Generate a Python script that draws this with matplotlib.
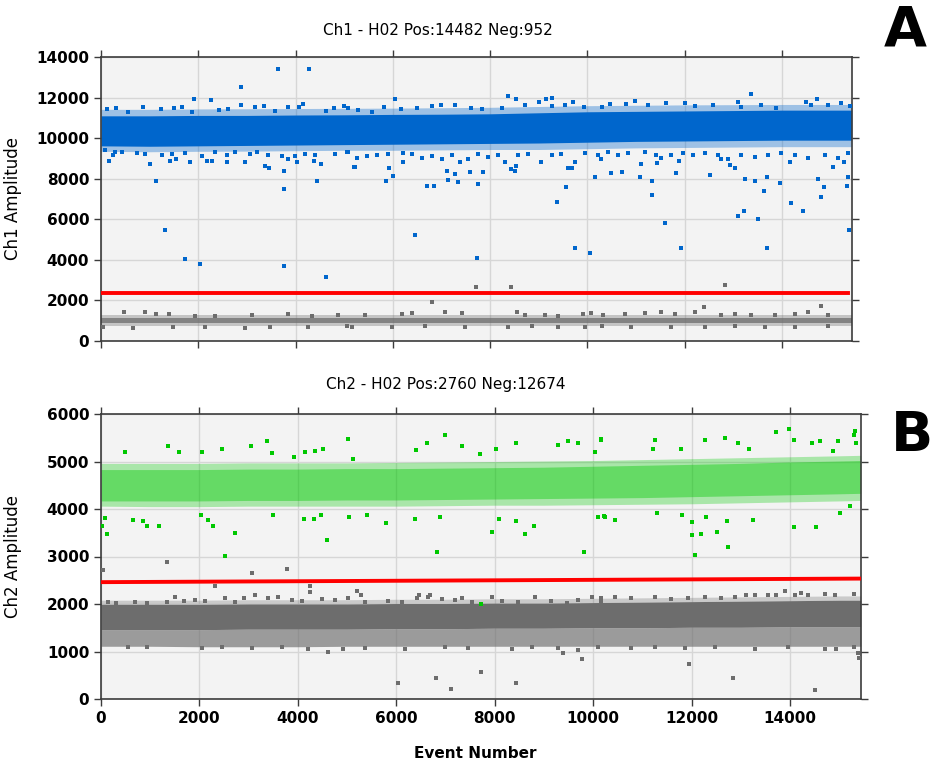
import matplotlib
matplotlib.use("Agg")
import matplotlib.pyplot as plt

# ---------------------------------------------------------------- data
event_max = 15440
bin_x = [0, 1000, 2000, 3000, 4000, 5000, 6000, 7000, 8000, 9000, 10000,
         11000, 12000, 13000, 14000, 15000, 15434]

# Ch1: dense positive cloud (core envelope per event bin)
ch1_pos_lo = [9620, 9600, 9620, 9640, 9660, 9680, 9700, 9720, 9740, 9760,
              9800, 9840, 9860, 9880, 9900, 9900, 9900]
ch1_pos_hi = [11100, 11100, 11120, 11120, 11140, 11150, 11170, 11180, 11200,
              11250, 11300, 11320, 11340, 11360, 11380, 11380, 11380]
# Ch1: thinner spread around the core
ch1_pos_spread_lo = [9350, 9330, 9350, 9360, 9380, 9400, 9400, 9420, 9440,
                     9440, 9480, 9520, 9540, 9560, 9580, 9580, 9580]
ch1_pos_spread_hi = [11420, 11420, 11440, 11450, 11460, 11470, 11480, 11500,
                     11520, 11560, 11600, 11620, 11640, 11650, 11660, 11660,
                     11660]

# Ch1: positive droplets outside the dense core
ch1_pos_x = [3631, 4268, 2871, 1905, 2254, 4157, 2871,
             171, 240, 1007, 1137, 1425, 1534, 1829, 2171, 2274, 2589, 2959,
             3377, 3459, 3767, 3767, 3849, 4034, 4377, 4515, 4446, 5199,
             1315, 1726, 2035, 3767, 4624,
             6042, 8370, 8542, 9151, 9262, 9706,
             5213, 5851, 5913, 6008, 6207, 6700, 6837, 7104, 7125, 7275, 7337,
             7577, 7754, 7845, 8420, 8502, 8542, 9378, 9550, 9597, 9686, 10146,
             6459, 7733, 9748, 10056,
             13358, 13097, 14717, 14504,
             10475, 10713, 11083, 11104, 11324, 11324, 11426, 11823, 11893,
             12530, 11600, 11934, 12753, 12931, 13027, 13235, 13447, 13625,
             13694, 13097, 13214, 13516, 13694, 13954, 14194, 14433, 14741,
             14811, 14872, 15043, 15283, 15331, 15352, 15378, 14165,
             # upper fringe
             130, 308, 549, 857, 1227, 1507, 1671, 1864, 2425, 2617, 3165,
             3344, 3576, 3837, 4069, 4618, 4795, 5000,
             5083, 5288, 5562, 5822, 6165, 6488, 6809, 6981, 7275, 7604, 7837,
             8236, 8713, 9007, 9262, 9535, 9932, 10302,
             10290, 10460, 10803, 10974, 11247, 11625, 12002, 12207, 12584,
             13167, 13578, 13886, 14606, 14946, 15221, 15392,
             # lower fringe
             82, 288, 425, 733, 904, 1247, 1452, 1726, 2069, 2343, 2583, 2754,
             3062, 3199, 3439, 3713, 3987, 4192, 4398, 4809, 5083,
             5049, 5254, 5460, 5665, 5905, 6213, 6385, 6590, 6796, 7001, 7207,
             7378, 7549, 7755, 7960, 8166, 8303, 8577, 8782, 9056, 9262, 9467,
             9741, 9947, 10289,
             10221, 10426, 10632, 10837, 11180, 11419, 11522, 11728, 11968,
             12174, 12413, 12687, 12893, 13167, 13441, 13715, 13989, 14263,
             14537, 14880, 15154, 15359]
ch1_pos_y = [13390, 13390, 12520, 11930, 11860, 11680, 11630,
             8860, 9150, 8710, 7870, 8860, 8990, 8810, 8860, 8860, 8810, 8810,
             8640, 8510, 8390, 7510, 8990, 8810, 8870, 8740, 7870, 8580,
             5460, 4060, 3810, 3700, 3170,
             11930, 12090, 11930, 11930, 11990, 11790,
             8580, 7870, 8510, 8120, 8810, 7630, 7630, 8390, 7920, 8230, 7850,
             8330, 7750, 8330, 8490, 8390, 8630, 6870, 7580, 8510, 8510, 8100,
             5220, 4110, 4580, 4340,
             12160, 11790, 11930, 11790,
             8280, 8340, 8100, 8740, 7870, 7180, 8760, 8280, 8860,
             8170, 5820, 4580, 8990, 8690, 8510, 7980, 7870, 7390,
             8100, 6160, 6410, 6000, 4580, 7800, 6820, 6410, 7980,
             7110, 7580, 8580, 8810, 7640, 8070, 5460, 8810,
             # upper fringe
             11420, 11470, 11300, 11520, 11420, 11500, 11520, 11270, 11390,
             11430, 11520, 11580, 11340, 11520, 11520, 11350, 11470, 11580,
             11470, 11390, 11300, 11520, 11420, 11470, 11600, 11630, 11630,
             11500, 11420, 11470, 11630, 11760, 11580, 11630, 11520, 11550,
             11550, 11670, 11670, 11840, 11630, 11720, 11720, 11580, 11630,
             11550, 11630, 11500, 11630, 11630, 11720, 11600,
             # lower fringe
             9410, 9330, 9300, 9250, 9220, 9170, 9200, 9250, 9130, 9330, 9170,
             9300, 9200, 9300, 9170, 9120, 9130, 9200, 9170, 9230, 9300,
             9330, 9000, 9120, 9170, 9220, 9250, 9220, 9000, 9130, 8970, 9170,
             8840, 8970, 9230, 9080, 9170, 8840, 9170, 9200, 8840, 9170, 9200,
             8840, 9250, 8970,
             9170, 9330, 9170, 9250, 9330, 9170, 9000, 9170, 9250,
             9170, 9280, 9170, 8970, 9170, 9080, 9170, 9250, 9170,
             9000, 9170, 9000, 9250]

# Ch1: negative streak and its scattered droplets
ch1_neg_lo = [880, 880, 880, 880, 880, 880, 880, 880, 880, 880, 880, 880,
              880, 880, 880, 880, 880]
ch1_neg_hi = [1150, 1150, 1150, 1150, 1150, 1150, 1150, 1150, 1150, 1150,
              1150, 1150, 1150, 1150, 1150, 1150, 1150]
ch1_neg_spread_lo = [760, 760, 760, 760, 760, 760, 760, 760, 760, 760, 760,
                     760, 760, 760, 760, 760, 760]
ch1_neg_spread_hi = [1280, 1280, 1280, 1280, 1280, 1280, 1280, 1280, 1280,
                     1280, 1280, 1280, 1280, 1280, 1280, 1280, 1280]
ch1_neg_x = [7713, 8420, 6796, 12835, 12398, 14811,
             480, 904, 1130, 1397, 1932, 2343, 3096, 3836, 4330, 4877,
             5425, 6179, 6385, 7070, 7412, 8543, 8714, 9125, 9399, 9913, 10084,
             10323, 10769, 11180, 11522, 11796, 12207, 12756, 13030, 13372,
             13852, 14263, 14537, 14948,
             48, 665, 1487, 2137, 2960, 3473, 4261, 5049,
             5151, 5973, 6659, 7480, 8371, 8851, 9399, 9947,
             10290, 10906, 11728, 12413, 13030, 13646, 14263, 14948]
ch1_neg_y = [2650, 2650, 1940, 2760, 1660, 1710,
             1420, 1405, 1320, 1340, 1240, 1240, 1290, 1340, 1240, 1290,
             1290, 1340, 1370, 1405, 1370, 1405, 1290, 1290, 1240, 1340, 1370,
             1290, 1340, 1370, 1405, 1340, 1405, 1290, 1340, 1290,
             1290, 1320, 1405, 1290,
             710, 660, 710, 680, 660, 710, 700, 720,
             700, 690, 720, 680, 700, 730, 690, 710,
             720, 700, 690, 710, 730, 700, 690, 720]

ch1_threshold_x = [0, 15360]
ch1_threshold_y = [2350, 2350]

# Ch2: positive cloud envelopes (outer spread and dense inner core)
ch2_pos_out_lo = [4060, 4050, 4050, 4060, 4060, 4060, 4060, 4070, 4080, 4080,
                  4090, 4100, 4110, 4130, 4150, 4170, 4180]
ch2_pos_out_hi = [4960, 4960, 4960, 4970, 4970, 4970, 4980, 4990, 5000, 5010,
                  5020, 5040, 5060, 5080, 5100, 5120, 5130]
ch2_pos_in_lo = [4170, 4170, 4170, 4180, 4180, 4190, 4190, 4200, 4210, 4220,
                 4230, 4240, 4260, 4280, 4300, 4320, 4330]
ch2_pos_in_hi = [4830, 4830, 4830, 4840, 4840, 4850, 4850, 4860, 4870, 4880,
                 4900, 4920, 4940, 4960, 4990, 5010, 5020]

ch2_pos_x = [1367, 481, 1584, 2057, 2451, 3053, 3378, 3467, 3919, 4137, 4346,
             4502, 5022, 5118,
             14, 128, 88, 656, 847, 928, 1172, 2025, 2179, 2268, 2728, 2511,
             3487, 4116, 4332, 4462, 4597, 5043,
             5022, 6992, 6613, 6402, 7344, 8422, 8016, 9288, 9478, 9694,
             10155, 7702, 10033,
             5043, 5396, 5794, 6383, 6885, 6818, 7947, 8089, 8441, 8611, 8794,
             9803, 10087, 10209,
             10155, 11252, 12267, 12680, 12938, 13703, 13978, 14074, 14454,
             14616, 14974, 15313, 15299, 15333, 11785, 11216, 13164, 14880,
             10087, 10236, 10439, 11292, 11806, 11997, 11997, 12058, 12186,
             12293, 12511, 12708, 12734, 13242, 14088, 14527, 15008, 15211,
             7725]
ch2_pos_y = [5330, 5210, 5210, 5210, 5260, 5330, 5430, 5180, 5100, 5210, 5230,
             5260, 5480, 5050,
             3650, 3470, 3820, 3770, 3750, 3650, 3650, 3870, 3770, 3650, 3500,
             3020, 3870, 3800, 3800, 3870, 3350, 3830,
             5470, 5550, 5380, 5240, 5330, 5400, 5270, 5350, 5430, 5380,
             5470, 5160, 5210,
             3830, 3870, 3700, 3780, 3830, 3100, 3520, 3780, 3750, 3470, 3650,
             3100, 3830, 3850,
             5450, 5450, 5450, 5500, 5380, 5620, 5680, 5450, 5380,
             5430, 5440, 5650, 5560, 5380, 5260, 5260, 5260, 5230,
             3830, 3840, 3770, 3920, 3870, 3720, 3450, 3040, 3470,
             3840, 3520, 3750, 3200, 3770, 3620, 3620, 3920, 4070,
             1990]

# Ch2: negative cloud (dense upper part, sparser lower tail)
ch2_neg_top = [2080, 2080, 2080, 2090, 2090, 2090, 2100, 2100, 2110, 2110,
               2120, 2130, 2140, 2150, 2160, 2170, 2170]
ch2_neg_hi = [1990, 1990, 1990, 2000, 2000, 2000, 2010, 2010, 2020, 2020,
              2030, 2040, 2050, 2060, 2070, 2080, 2080]
ch2_neg_mid = [1460, 1460, 1460, 1470, 1470, 1470, 1480, 1480, 1490, 1490,
               1500, 1500, 1510, 1510, 1520, 1520, 1520]
ch2_neg_lo = [1110, 1110, 1100, 1100, 1100, 1110, 1110, 1110, 1110, 1110,
              1110, 1110, 1110, 1110, 1110, 1110, 1110]

ch2_neg_x = [41, 1340, 3073, 3771, 2315, 4250, 4250, 4603,
             5199, 5280, 6038, 6797, 7102, 7725, 8422, 9389, 9763, 6452, 6688,
             11946, 12835, 14501, 15394, 15380, 13891,
             149, 298, 690, 927, 1334, 1503, 1692, 1909, 2112, 2518, 2721,
             2904, 3128, 3398, 3601, 3872, 4075, 4481, 4752, 5023,
             5362, 5835, 6106, 6411, 6648, 6918, 7189, 7325, 7528, 7934, 8137,
             8475, 8814, 9152, 9457, 9694, 9965, 10168,
             10168, 10439, 10777, 11251, 11590, 11928, 12267, 12605, 12875,
             13112, 13282, 13553, 13722, 14094, 14229, 14365, 14703, 14906,
             15298,
             555, 927, 2044, 2450, 3060, 3669, 4211, 4922,
             5362, 6174, 6986, 7460, 8340, 8746, 9287, 9694, 10100,
             10777, 11251, 11861, 12470, 13282, 13959, 14703, 14940, 15298]
ch2_neg_y = [2720, 2890, 2650, 2740, 2370, 2370, 2250, 980,
             2270, 2190, 330, 435, 210, 560, 330, 960, 840, 2190, 2190,
             730, 435, 190, 860, 960, 2270,
             2050, 2030, 2050, 2030, 2050, 2140, 2070, 2080, 2070, 2130, 2050,
             2130, 2190, 2120, 2140, 2080, 2070, 2100, 2080, 2120,
             2050, 2070, 2050, 2120, 2150, 2100, 2080, 2120, 2050, 2150, 2070,
             2050, 2140, 2070, 2030, 2080, 2150, 2070,
             2120, 2150, 2120, 2150, 2100, 2120, 2140, 2120, 2150,
             2200, 2180, 2200, 2180, 2190, 2240, 2200, 2210, 2190,
             2210,
             1090, 1100, 1070, 1090, 1070, 1090, 1050, 1050,
             1070, 1050, 1090, 1070, 1050, 1090, 1070, 1030, 1090,
             1070, 1090, 1070, 1090, 1050, 1100, 1050, 1050, 1100]

ch2_threshold_x = [0, 15434]
ch2_threshold_y = [2460, 2535]

# ---------------------------------------------------------------- style
BLUE = "#0066cc"
GREEN = "#00c800"
GRAY = "#6d6d6d"
RED = "#ff0000"
BG = "#f3f3f3"
GRID = "#d6d6d6"
SPINE = "#3c3c3c"

fig = plt.figure(figsize=(9.34, 7.63), dpi=100)
axA = fig.add_axes([101 / 934, 1 - 341 / 763, 751 / 934, 284 / 763])
axB = fig.add_axes([101 / 934, 1 - 699 / 763, 760 / 934, 285 / 763])


def style_axes(ax, ymax, ystep, show_xlabels):
    ax.set_facecolor(BG)
    ax.set_xlim(0, event_max)
    ax.set_ylim(0, ymax)
    ax.set_xticks(range(0, 15000, 2000))
    ax.set_yticks(range(0, ymax + 1, ystep))
    ax.grid(True, color=GRID, linewidth=1.0, zorder=0)
    ax.set_axisbelow(True)
    for sp in ax.spines.values():
        sp.set_color(SPINE)
        sp.set_linewidth(1.2)
    ax.tick_params(direction="out", length=5, width=1.0, color=SPINE,
                   top=True, right=True, labelright=False, labeltop=False,
                   labelbottom=show_xlabels)
    for lab in ax.get_yticklabels() + ax.get_xticklabels():
        lab.set_fontweight("bold")
        lab.set_fontsize(11)


def band(ax, lo, hi, color, alpha):
    ax.fill_between(bin_x, lo, hi, color=color, alpha=alpha, linewidth=0,
                    zorder=2)


def scatter(ax, xs, ys, color):
    ax.scatter(xs, ys, s=6, marker="s", color=color, linewidths=0, zorder=3)


# Panel A -----------------------------------------------------------
style_axes(axA, 14000, 2000, False)
band(axA, ch1_pos_spread_lo, ch1_pos_spread_hi, BLUE, 0.35)
band(axA, ch1_pos_lo, ch1_pos_hi, BLUE, 1.0)
scatter(axA, ch1_pos_x, ch1_pos_y, BLUE)
band(axA, ch1_neg_spread_lo, ch1_neg_spread_hi, GRAY, 0.35)
band(axA, ch1_neg_lo, ch1_neg_hi, GRAY, 0.75)
scatter(axA, ch1_neg_x, ch1_neg_y, GRAY)
axA.plot(ch1_threshold_x, ch1_threshold_y, color=RED, linewidth=2.8, zorder=4)
axA.set_ylabel("Ch1 Amplitude", fontsize=12)
axA.yaxis.set_label_coords(-0.105, 0.5)

# Panel B -----------------------------------------------------------
style_axes(axB, 6000, 1000, True)
band(axB, ch2_pos_out_lo, ch2_pos_out_hi, GREEN, 0.3)
band(axB, ch2_pos_in_lo, ch2_pos_in_hi, GREEN, 0.4)
band(axB, ch2_neg_hi, ch2_neg_top, GRAY, 0.3)
band(axB, ch2_neg_mid, ch2_neg_hi, GRAY, 1.0)
band(axB, ch2_neg_lo, ch2_neg_mid, GRAY, 0.65)
scatter(axB, ch2_neg_x, ch2_neg_y, GRAY)
scatter(axB, ch2_pos_x, ch2_pos_y, GREEN)
axB.plot(ch2_threshold_x, ch2_threshold_y, color=RED, linewidth=2.8, zorder=4)
axB.set_ylabel("Ch2 Amplitude", fontsize=12)
axB.yaxis.set_label_coords(-0.104, 0.5)
axB.set_xlabel("Event Number", fontsize=11, fontweight="bold")
axB.xaxis.set_label_coords(0.493, -0.165)

# Titles and panel letters -------------------------------------------
fig.text(438 / 934, 1 - 30 / 763, "Ch1 - H02 Pos:14482 Neg:952",
         ha="center", va="center", fontsize=11)
fig.text(446 / 934, 1 - 385 / 763, "Ch2 - H02 Pos:2760 Neg:12674",
         ha="center", va="center", fontsize=11)
fig.text(905 / 934, 1 - 31 / 763, "A", ha="center", va="center",
         fontsize=40, fontweight="bold")
fig.text(912 / 934, 1 - 436 / 763, "B", ha="center", va="center",
         fontsize=40, fontweight="bold")

fig.savefig("out.png", dpi=100)
